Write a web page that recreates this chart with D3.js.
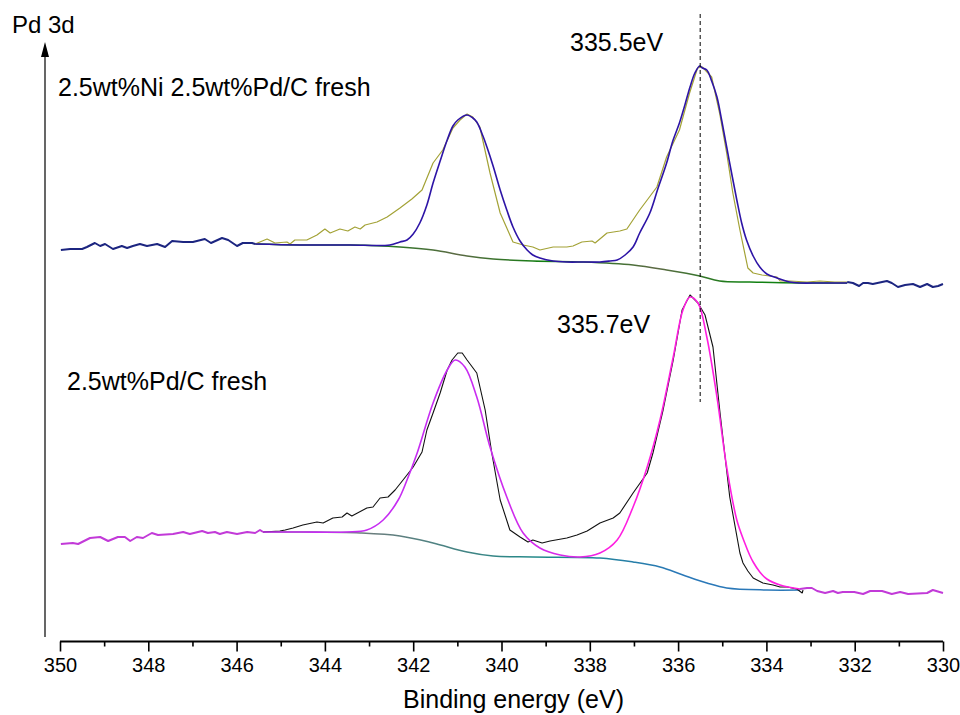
<!DOCTYPE html>
<html>
<head>
<meta charset="utf-8">
<script src="https://cdn.jsdelivr.net/npm/d3@7"></script>
<style>
  html, body { margin: 0; padding: 0; background: #fff; }
  svg { display: block; font-family: Arial, "Liberation Sans", sans-serif; }
</style>
</head>
<body>
<div id="chart"></div>
<script>
// Binding energy (eV) vs intensity (a.u.).
const majorTicks = [350, 348, 346, 344, 342, 340, 338, 336, 334, 332, 330];
const minorTicks = [349, 347, 345, 343, 341, 339, 337, 335, 333, 331];

// 2.5wt%Ni 2.5wt%Pd/C fresh
const topTailLeft = [[349.98,391],[349.77,392],[349.50,392],[349.39,394],[349.21,398],[349.09,395],[348.98,397],[348.80,392],[348.60,395],[348.48,393],[348.35,395],[348.19,397],[348.03,395],[347.80,397],[347.62,394],[347.46,400],[347.21,399],[346.99,399],[346.72,402],[346.58,398],[346.33,403],[346.19,401],[345.99,395],[345.86,398],[345.65,398],[345.58,397]];
const topRaw = [[345.58,397],[345.31,402],[345.13,398],[344.86,399],[344.79,397],[344.68,401],[344.41,401],[344.18,406],[344.00,412],[343.88,408],[343.66,412],[343.48,410],[343.32,414],[343.20,412],[343.09,416],[342.82,419],[342.59,424],[342.30,433],[342.03,442],[341.80,451],[341.55,478],[341.33,491],[341.10,513],[340.94,521],[340.78,527],[340.65,524],[340.49,514],[340.26,468],[340.03,428],[339.74,399],[339.51,396],[339.29,394],[339.13,391],[338.83,394],[338.52,394],[338.38,395],[338.18,399],[337.95,400],[337.88,398],[337.61,408],[337.32,410],[337.16,412],[336.87,431],[336.48,454],[336.26,484],[335.97,511],[335.74,548],[335.56,573],[335.45,574],[335.24,564],[335.06,528],[334.90,488],[334.76,448],[334.60,411],[334.42,373],[334.30,368],[334.10,366],[333.76,364],[333.69,360],[333.47,360],[333.08,359],[332.79,360],[332.45,359],[332.17,359]];
const topEnvelope = [[345.58,397],[344.56,396],[343.43,396],[342.53,396],[342.30,399],[342.14,401],[342.00,407],[341.85,418],[341.69,436],[341.55,458],[341.39,480],[341.23,501],[341.10,515],[340.99,521],[340.78,526],[340.65,523],[340.56,519],[340.42,505],[340.33,494],[340.19,475],[340.03,451],[339.88,431],[339.74,414],[339.58,400],[339.42,391],[339.29,386],[339.13,383],[338.83,380],[338.52,379],[338.15,379],[337.77,379],[337.54,380],[337.38,381],[337.20,386],[337.02,394],[336.87,408],[336.64,428],[336.46,452],[336.26,478],[336.12,500],[335.97,518],[335.84,537],[335.73,554],[335.62,568],[335.51,575],[335.45,573],[335.35,571],[335.24,560],[335.12,544],[335.01,520],[334.90,494],[334.78,466],[334.67,441],[334.56,418],[334.45,401],[334.30,385],[334.15,374],[333.99,367],[333.76,363],[333.47,359],[333.24,358],[332.79,358],[332.17,358]];
const topBackground = [[345.58,397],[344.56,396],[343.43,396],[342.30,394],[341.55,391],[340.78,385],[340.19,382],[339.29,380],[338.15,379],[337.02,376],[336.26,371],[335.51,365],[335.06,360],[334.38,359],[333.24,358],[332.17,358]];
const topTailRight = [[332.17,359],[332.04,358],[331.90,355],[331.81,358],[331.70,358],[331.59,357],[331.38,359],[331.27,360],[331.16,358],[331.02,354],[330.86,356],[330.68,357],[330.52,354],[330.36,357],[330.23,354],[330.11,355],[330.00,357]];

// 2.5wt%Pd/C fresh
const botTailLeft = [[349.98,97],[349.71,98],[349.59,97],[349.32,103],[349.09,104],[348.91,100],[348.69,104],[348.53,104],[348.41,100],[348.26,104],[348.12,103],[347.92,108],[347.78,106],[347.44,107],[347.21,109],[347.06,107],[346.78,110],[346.65,108],[346.49,109],[346.38,107],[346.22,109],[345.99,107],[345.76,109],[345.58,108],[345.47,111],[345.40,109]];
const botRaw = [[345.40,109],[345.02,110],[344.90,111],[344.72,113],[344.50,116],[344.18,119],[344.04,118],[343.82,123],[343.61,124],[343.50,128],[343.39,125],[343.05,133],[342.91,134],[342.75,143],[342.57,144],[342.41,151],[342.23,161],[342.00,174],[341.80,189],[341.69,211],[341.55,228],[341.39,248],[341.23,271],[341.12,281],[340.99,288],[340.89,288],[340.78,281],[340.56,268],[340.37,231],[340.22,188],[340.03,141],[339.81,111],[339.58,104],[339.40,99],[339.29,101],[339.08,98],[338.90,100],[338.52,103],[338.29,106],[338.06,110],[337.77,118],[337.47,123],[337.32,128],[337.02,148],[336.70,168],[336.57,188],[336.34,231],[336.11,281],[335.91,331],[335.73,346],[335.55,338],[335.39,326],[335.21,294],[335.05,228],[334.83,144],[334.60,88],[334.53,78],[334.42,70],[334.30,63],[334.08,58],[333.85,56],[333.69,54],[333.53,54],[333.31,52],[333.19,48],[333.17,51]];
const botEnvelope = [[345.40,109],[344.56,109],[343.50,109],[343.05,111],[342.68,121],[342.34,141],[342.14,161],[341.91,188],[341.55,238],[341.23,271],[341.05,281],[340.83,274],[340.56,244],[340.26,194],[339.88,144],[339.51,108],[339.13,93],[338.67,86],[338.22,84],[337.77,88],[337.38,101],[337.02,134],[336.70,174],[336.41,221],[336.11,284],[335.89,331],[335.73,344],[335.55,338],[335.35,304],[335.12,244],[334.90,174],[334.67,121],[334.49,98],[334.38,86],[334.30,79],[334.15,69],[333.99,62],[333.69,56],[333.24,52]];
const botBackground = [[345.40,109],[344.56,109],[343.20,108],[342.30,105],[341.55,98],[340.78,89],[340.19,85],[339.29,84],[337.77,83],[337.02,79],[336.41,74],[335.89,66],[335.35,58],[334.90,53],[333.99,51],[333.24,51]];
const botTailRight = [[333.24,52],[333.08,53],[332.97,53],[332.85,50],[332.67,48],[332.49,50],[332.38,48],[332.27,49],[332.01,49],[331.81,47],[331.65,50],[331.38,50],[331.16,47],[330.97,49],[330.79,47],[330.36,48],[330.23,51],[330.00,48]];

const peakMarker = { energy: 335.5, from: 239, to: 627 };

const width = 960;
const height = 715;
const x = d3.scaleLinear().domain([350, 330]).range([60, 943]);
const y = d3.scaleLinear().domain([0, 600]).range([641, 41]);

const svg = d3
  .select("#chart")
  .append("svg")
  .attr("width", width)
  .attr("height", height)
  .attr("viewBox", `0 0 ${width} ${height}`);

const defs = svg.append("defs");
addGradient("botEnvGrad", [[341, "#c62cf2"], [338.5, "#d82ae8"], [337.5, "#ff1ee0"]]);
addGradient("botBgGrad", [[343, "#6b7d7d"], [339, "#1f8a8a"], [336, "#2a78b8"]]);
addGradient("topBgGrad", [[343, "#1a7d1a"], [341, "#5d6a45"], [339, "#0f7f0f"], [336.5, "#5d6a45"], [334.5, "#128012"]]);

function addGradient(id, stops) {
  const g = defs
    .append("linearGradient")
    .attr("id", id)
    .attr("gradientUnits", "userSpaceOnUse")
    .attr("x1", x(350))
    .attr("x2", x(330))
    .attr("y1", 0)
    .attr("y2", 0);
  stops.forEach(([e, c]) => {
    g.append("stop")
      .attr("offset", (350 - e) / 20)
      .attr("stop-color", c);
  });
}

const rawLine = d3.line().x((d) => x(d[0])).y((d) => y(d[1]));
const smoothLine = d3.line().x((d) => x(d[0])).y((d) => y(d[1])).curve(d3.curveCatmullRom.alpha(0.5));

function drawPath(data, line, color, w) {
  svg
    .append("path")
    .datum(data)
    .attr("d", line)
    .attr("fill", "none")
    .attr("stroke", color)
    .attr("stroke-width", w)
    .attr("stroke-linejoin", "round");
}

// top spectrum
drawPath(topBackground, smoothLine, "url(#topBgGrad)", 1.5);
drawPath(topRaw, rawLine, "#a3a236", 1.2);
drawPath(topEnvelope, smoothLine, "#2d14a6", 1.6);
drawPath(topTailLeft, rawLine, "#1c2580", 2);
drawPath(topTailRight, rawLine, "#1c2580", 2);

// bottom spectrum
drawPath(botBackground, smoothLine, "url(#botBgGrad)", 1.5);
drawPath(botRaw, rawLine, "#111", 1.1);
drawPath(botEnvelope, smoothLine, "url(#botEnvGrad)", 1.6);
drawPath(botTailLeft, rawLine, "#c23ad8", 2);
drawPath(botTailRight, rawLine, "#c23ad8", 2);

// dashed peak marker
svg
  .append("line")
  .attr("x1", x(peakMarker.energy))
  .attr("x2", x(peakMarker.energy))
  .attr("y1", y(peakMarker.to))
  .attr("y2", y(peakMarker.from))
  .attr("stroke", "#000")
  .attr("stroke-width", 1)
  .attr("stroke-dasharray", "4 3");

// x axis
const xAxis = svg.append("g").attr("transform", `translate(0, ${y(0) + 0.5})`);
xAxis
  .call(d3.axisBottom(x).tickValues(majorTicks).tickSize(10).tickPadding(6).tickFormat(d3.format("d")))
  .call((g) => g.select(".domain").attr("stroke-width", 2).attr("d", `M${x(350)},0H${x(330)}`))
  .call((g) => g.selectAll(".tick line").attr("stroke-width", 1.6))
  .call((g) => g.selectAll(".tick text").attr("font-size", 20).attr("font-family", "Arial, 'Liberation Sans', sans-serif").attr("fill", "#000"));
svg
  .append("g")
  .attr("transform", `translate(0, ${y(0) + 0.5})`)
  .call(d3.axisBottom(x).tickValues(minorTicks).tickSize(5).tickFormat(""))
  .call((g) => g.select(".domain").remove())
  .call((g) => g.selectAll(".tick line").attr("stroke-width", 1.6));

svg
  .append("text")
  .attr("x", (x(350) + x(330)) / 2 + 12)
  .attr("y", 708)
  .attr("text-anchor", "middle")
  .attr("font-size", 25)
  .text("Binding energy (eV)");

// y axis arrow
svg
  .append("line")
  .attr("x1", 45)
  .attr("x2", 45)
  .attr("y1", 637)
  .attr("y2", 55)
  .attr("stroke", "#000")
  .attr("stroke-width", 1.2);
svg.append("path").attr("d", "M45,42 L41,57 L49,57 Z").attr("fill", "#000");

svg.append("text").attr("x", 12).attr("y", 33).attr("font-size", 24).text("Pd 3d");

// annotations
svg.append("text").attr("x", 58).attr("y", 96).attr("font-size", 25).text("2.5wt%Ni 2.5wt%Pd/C fresh");
svg.append("text").attr("x", 67).attr("y", 390).attr("font-size", 25).text("2.5wt%Pd/C fresh");
svg.append("text").attr("x", 570).attr("y", 51).attr("font-size", 25).text("335.5eV");
svg.append("text").attr("x", 557).attr("y", 333).attr("font-size", 25).text("335.7eV");
</script>
</body>
</html>
